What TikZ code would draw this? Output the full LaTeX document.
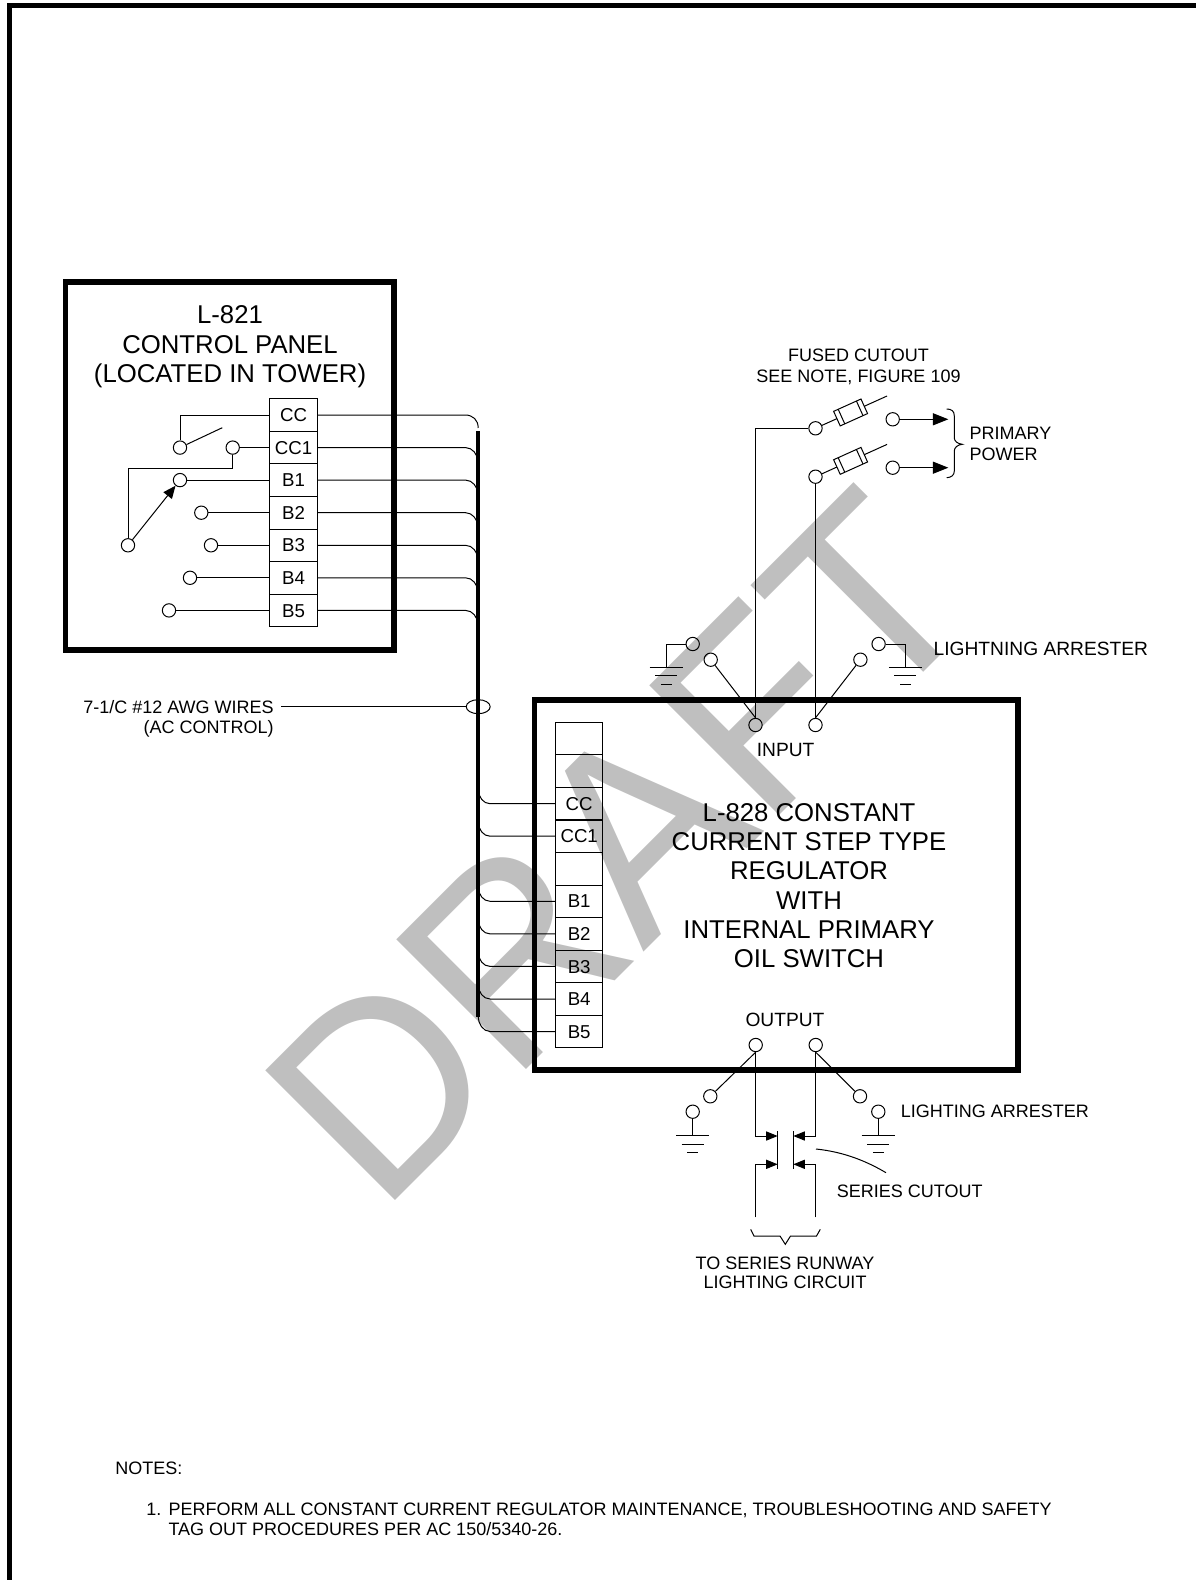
\documentclass[tikz,border=0pt]{standalone}
\usepackage{fontspec}
\setmainfont{Liberation Sans}
\usetikzlibrary{arrows.meta,shapes.geometric}
\newcommand{\fsz}[1]{\fontsize{#1}{#1}\selectfont}
\tikzset{
  wire/.style={line width=0.75pt,draw=black},
  frameline/.style={line width=3.8pt,draw=black,line join=miter},
  term/.style={circle,draw=black,line width=0.75pt,minimum size=10pt,inner sep=0pt},
  cell/.style={draw=black,line width=0.75pt,minimum width=35.4pt,minimum height=24.45pt,inner sep=0pt,font=\fsz{14},text height=10pt,text depth=0pt},
  lbl/.style={inner sep=0pt,font=\fsz{13.5},align=center,text height=9.7pt,text depth=0pt},
  big/.style={inner sep=0pt,font=\fsz{19.3},align=center,text height=14pt,text depth=0pt},
  head/.style={-{Triangle[length=11.5pt,width=9pt]}},
  headsm/.style={-{Triangle[length=8.6pt,width=6.8pt]}},
  headpanel/.style={-{Triangle[length=9.5pt,width=8pt]}},
}
\begin{document}
\begin{tikzpicture}[x=0.75pt,y=-0.75pt]
\useasboundingbox (0,0) rectangle (1196,1580);
% watermark
\node[text=black!25,rotate=45,inner sep=0pt,font=\fsz{200}] (wm) at (619,847) {\scalebox{0.967}[1]{DRAFT}};
% page frame
\draw[line width=4pt] (9.5,1580) -- (9.5,5.7) -- (1196,5.7);
% boxes
\coordinate (p1) at (65.5,282); \coordinate (p2) at (394,650);
\draw[frameline] (p1) rectangle (p2);
\coordinate (r1) at (534.5,700); \coordinate (r2) at (1018,1070);
\draw[frameline] (r1) rectangle (r2);
% texts
\node[big] (t1) at (230,314.5) {L-821};
\node[big] (t2) at (230,343.7) {CONTROL PANEL};
\node[big] (t3) at (230,373) {(LOCATED IN TOWER)};
\foreach \n/\y/\s in {a/812/L-828 CONSTANT,b/841.5/CURRENT STEP TYPE,c/870.6/REGULATOR,d/899.8/WITH,e/929/INTERNAL PRIMARY,f/958/OIL SWITCH}
  \node[big] (u\n) at (809,\y) {\s};
% terminal block 1
\foreach \n/\y/\s in {cc/415/CC,ccb/447.6/CC1,ba/480.1/B1,bb/512.7/B2,bc/545.3/B3,bd/577.8/B4,be/610.4/B5}
  \node[cell] (L\n) at (293.5,\y) {\s};
% terminal block 2
\node[cell] (Rx) at (579.2,738.6) {};
\node[cell] (Ry) at (579.2,771.1) {};
\node[cell] (Rz) at (579.2,868.8) {};
\foreach \n/\y/\s in {cc/803.7/CC,ccb/836.2/CC1,ba/901.3/B1,bb/933.9/B2,bc/966.4/B3,bd/999/B4,be/1031.5/B5}
  \node[cell] (R\n) at (579.2,\y) {\s};
% bus
\coordinate (busT) at (478.2,431); \coordinate (busB) at (478.2,1016.7);
\draw[line width=2.9pt] (busT) -- (busB);
% control panel to bus
\coordinate (c1) at (478.2,428);
\draw[wire] (Lcc.east) -- (465,415) .. controls (473,415) and (478.2,420) .. (c1);
\foreach \n in {ccb,ba,bb,bc,bd,be}
  \draw[wire] (L\n.east) -- ++(148,0) .. controls +(7,0) and +(0,-6) .. ++(12,13);
% bus to regulator
\foreach \n in {cc,ccb,ba,bb,bc,bd}
  \draw[wire] (R\n.west) -- ++(-65,0) .. controls +(-7,0) and +(0,6) .. ++(-11.5,-13);
\draw[wire] (Rbe.west) -- ++(-65,0) .. controls +(-7,0) and +(0,7) .. (busB);
% switches in the panel
\node[term] (s1) at (180,447.6) {};
\node[term] (s2) at (232.7,447.6) {};
\node[term] (s3) at (180,480.1) {};
\node[term] (s4) at (201.3,512.7) {};
\node[term] (s5) at (211,545.3) {};
\node[term] (s6) at (190,577.8) {};
\node[term] (s7) at (169,610.4) {};
\node[term] (s8) at (128,545.3) {};
\coordinate (swend) at (222.3,427.7);
\draw[wire] (Lcc.west) -| (s1.north);
\draw[wire] (s1) -- (swend);
\draw[wire] (s2) -- (Lccb.west);
\draw[wire] (s2.south) |- (128,468) -- (s8.north);
\draw[wire] (s3) -- (Lba.west);
\draw[wire] (s4) -- (Lbb.west);
\draw[wire] (s5) -- (Lbc.west);
\draw[wire] (s6) -- (Lbd.west);
\draw[wire] (s7) -- (Lbe.west);
\draw[wire,headpanel] (s8) -- (s3);
% cable marker
\node[draw=black,line width=0.75pt,ellipse,minimum width=18pt,minimum height=10.5pt,inner sep=0pt] (mk) at (478.2,706.7) {};
\node[lbl,anchor=east] (w1) at (274,707) {7-1/C \#12 AWG WIRES};
\node[lbl,anchor=east] (w2) at (274,727.5) {(AC CONTROL)};
\coordinate (wstart) at (281,706.7);
\draw[wire] (wstart) -- (mk.west);
% input side
\node[term] (i1) at (755.5,725) {};
\node[term] (i2) at (815.5,725) {};
\node[term] (f1) at (815.5,428.3) {};
\node[term] (f2) at (815.5,476.7) {};
\node[term] (k1) at (892.7,419.3) {};
\node[term] (k2) at (892.7,467.7) {};
\coordinate (a1) at (948.3,419.3); \coordinate (a2) at (948.3,467.7);
\draw[wire,head] (k1) -- (a1);
\draw[wire,head] (k2) -- (a2);
\draw[wire] (i1.north) |- (f1.west);
\draw[wire] (i2.north) -- (f2.south);
\foreach \c/\dy in {f1/0,f2/48.4}{
  \begin{scope}[shift={(815.5,428.3+\dy)},rotate=24.3]
    \draw[wire] (6.7,0) -- (23.5,0);
    \draw[wire] (23.5,-8) rectangle (53.5,8);
    \draw[wire] (28.5,-8) -- (28.5,8) (48.5,-8) -- (48.5,8);
    \draw[wire] (53.5,0) -- (78.5,0);
  \end{scope}
}
\draw[wire] (946.7,409) .. controls (951.5,409) and (954.3,411) .. (954.3,416) -- (954.3,438) .. controls (954.3,441) and (957.5,443.8) .. (962.3,444.3) .. controls (957.5,444.8) and (954.3,447.5) .. (954.3,451) -- (954.3,471) .. controls (954.3,475) and (951.5,477.5) .. (946.7,477.7);
\node[lbl,anchor=west,align=left] (pp1) at (969.3,432.7) {PRIMARY};
\node[lbl,anchor=west,align=left] (pp2) at (969.3,453.7) {POWER};
\node[lbl] (fc1) at (858.5,355) {FUSED CUTOUT};
\node[lbl] (fc2) at (858.5,375.7) {SEE NOTE, FIGURE 109};
\node[lbl,anchor=west,font=\fsz{14.4}] (la1) at (933.4,649) {LIGHTNING ARRESTER};
\node[lbl,font=\fsz{14.4}] (inp) at (785.6,750) {INPUT};
% input arresters
\node[term] (la) at (710.7,659.7) {};
\node[term] (lb) at (860.4,659.7) {};
\node[term] (lc) at (692.7,644) {};
\node[term] (ld) at (878.6,644) {};
\draw[wire] (la) -- (i1.north);
\draw[wire] (lb) -- (i2.north);
\draw[wire] (lc.west) -| (666.2,667.3);
\draw[wire] (ld.east) -| (905.4,667.3);
\foreach \x in {666.2,905.4}{
  \draw[wire] (\x-16.6,667.3) -- (\x+16.6,667.3);
  \draw[wire] (\x-11,675.7) -- (\x+11,675.7);
  \draw[wire] (\x-5.4,684) -- (\x+5.4,684);
}
% output side
\node[lbl,font=\fsz{14.4}] (out) at (785,1020) {OUTPUT};
\node[term] (o1) at (755.7,1045) {};
\node[term] (o2) at (815.7,1045) {};
\node[term] (oa) at (710.3,1096.3) {};
\node[term] (ob) at (860,1096.3) {};
\node[term] (oc) at (692.7,1111.7) {};
\node[term] (od) at (878.3,1111.7) {};
\draw[wire] (oa) -- (o1.south);
\draw[wire] (ob) -- (o2.south);
\foreach \x/\n in {692.7/oc,878.3/od}{
  \draw[wire] (\n.south) -- (\x,1135.7);
  \draw[wire] (\x-16.6,1135.7) -- (\x+16.6,1135.7);
  \draw[wire] (\x-11,1144) -- (\x+11,1144);
  \draw[wire] (\x-5.4,1152) -- (\x+5.4,1152);
}
\coordinate (cl1) at (777.7,1136); \coordinate (cl2) at (777.7,1164.3);
\coordinate (cr1) at (793.3,1136); \coordinate (cr2) at (793.3,1164.3);
\coordinate (ol) at (755.7,1217.3); \coordinate (or) at (815.7,1217.3);
\draw[wire] (777.7,1131) -- (777.7,1169.3);
\draw[wire] (793.3,1131) -- (793.3,1169.3);
\draw[wire,headsm] (o1.south) |- (cl1);
\draw[wire,headsm] (o2.south) |- (cr1);
\draw[wire,headsm] (ol) |- (cl2);
\draw[wire,headsm] (or) |- (cr2);
\draw[wire] (816,1149) .. controls (845,1152) and (868,1162) .. (886,1172.7);
\node[lbl,anchor=west] (sc) at (836.7,1190.7) {SERIES CUTOUT};
\node[lbl,anchor=west] (la2) at (900.7,1111.3) {LIGHTING ARRESTER};
\draw[wire] (750.7,1229.3) -- (754,1236) -- (780,1236) -- (785.3,1244.3) -- (790.5,1236) -- (816.5,1236) -- (820.3,1229.3);
\node[lbl] (ts1) at (785,1262.7) {TO SERIES RUNWAY};
\node[lbl] (ts2) at (785,1282.3) {LIGHTING CIRCUIT};
% notes
\node[lbl,anchor=west] (n0) at (115,1468) {NOTES:};
\node[lbl,anchor=west] (n1) at (146,1509.3) {1.};
\node[lbl,anchor=west] (n2) at (168.3,1509.3) {PERFORM ALL CONSTANT CURRENT REGULATOR MAINTENANCE, TROUBLESHOOTING AND SAFETY};
\node[lbl,anchor=west] (n3) at (168.3,1529.5) {TAG OUT PROCEDURES PER AC 150/5340-26.};
\end{tikzpicture}
\end{document}
